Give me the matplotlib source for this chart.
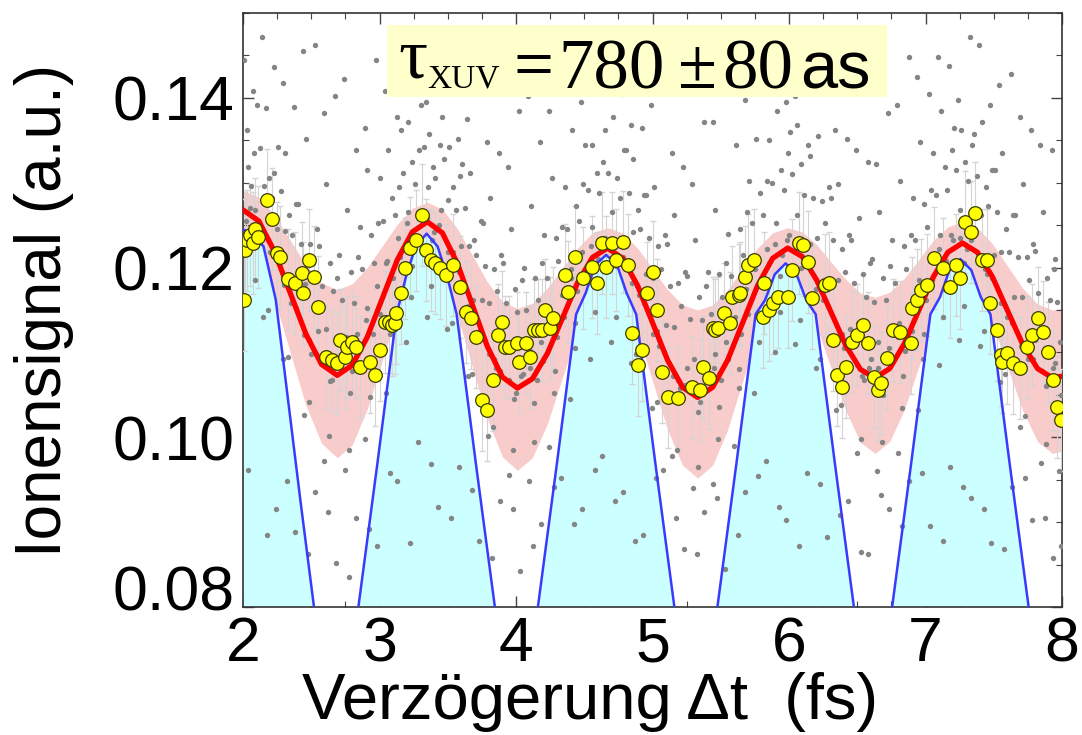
import numpy as np
import matplotlib
matplotlib.use("Agg")
import matplotlib.pyplot as plt
from matplotlib.ticker import FixedLocator, MultipleLocator
from matplotlib.patches import Rectangle

# =========================
# DATOS
# =========================
# ajuste (linea roja)
fit_x = [2.00, 2.115, 2.23, 2.345, 2.46, 2.575, 2.69,
         2.80, 2.91, 3.02, 3.13, 3.24, 3.35,
         3.46, 3.57, 3.68, 3.79, 3.90, 4.01,
         4.12, 4.23, 4.34, 4.45, 4.56, 4.67,
         4.78, 4.89, 5.00, 5.11, 5.22, 5.33,
         5.44, 5.55, 5.66, 5.77, 5.88, 5.99,
         6.097, 6.203, 6.31, 6.417, 6.523, 6.63,
         6.737, 6.843, 6.95, 7.057, 7.163, 7.27,
         7.38, 7.49, 7.60, 7.71, 7.82, 7.93,
         8.00]
fit_y = [0.1268, 0.1255, 0.1219, 0.11705, 0.1122, 0.1086, 0.1073,
         0.1085, 0.1118, 0.11635, 0.1209, 0.1242, 0.1254,
         0.1241, 0.1205, 0.1156, 0.1107, 0.1071, 0.1058,
         0.1069, 0.1099, 0.11405, 0.1182, 0.1212, 0.1223,
         0.1211, 0.1179, 0.1135, 0.1091, 0.1059, 0.1047,
         0.1059, 0.1091, 0.1135, 0.1179, 0.1211, 0.1223,
         0.1213, 0.1185, 0.11465, 0.1108, 0.1080, 0.1070,
         0.1081, 0.1110, 0.11495, 0.1189, 0.1218, 0.1229,
         0.1218, 0.1189, 0.11495, 0.1110, 0.1081, 0.1070,
         0.1072]
# banda de error (rosa)
band_hi = [0.1291, 0.1283, 0.1262, 0.12325, 0.1203, 0.1182, 0.1174,
           0.1181, 0.1200, 0.12255, 0.1251, 0.1270, 0.1277,
           0.1269, 0.1246, 0.12145, 0.1183, 0.1160, 0.1152,
           0.1158, 0.1176, 0.11995, 0.1223, 0.1241, 0.1247,
           0.1241, 0.1223, 0.11985, 0.1174, 0.1156, 0.1150,
           0.1156, 0.1174, 0.11985, 0.1223, 0.1241, 0.1247,
           0.1242, 0.1227, 0.1206, 0.1186, 0.1170, 0.1165,
           0.1171, 0.1187, 0.12095, 0.1232, 0.1248, 0.1254,
           0.1247, 0.1228, 0.1202, 0.1176, 0.1157, 0.1150,
           0.1152]
band_lo = [0.1225, 0.1208, 0.1163, 0.11005, 0.1038, 0.0993, 0.0976,
           0.0991, 0.1033, 0.10905, 0.1148, 0.1190, 0.1205,
           0.1189, 0.1144, 0.1083, 0.1022, 0.0977, 0.0961,
           0.0976, 0.1016, 0.10705, 0.1125, 0.1165, 0.1180,
           0.1165, 0.1123, 0.1066, 0.1009, 0.0967, 0.0952,
           0.0967, 0.1009, 0.1066, 0.1123, 0.1165, 0.1180,
           0.1167, 0.1130, 0.10805, 0.1031, 0.0994, 0.0981,
           0.0995, 0.1032, 0.1083, 0.1134, 0.1171, 0.1185,
           0.1171, 0.1134, 0.1083, 0.1032, 0.0995, 0.0981,
           0.0984]
# tren de pulsos XUV (azul / cian)
pulse_x = [1.85, 1.92, 2.00, 2.08, 2.15, 2.24, 2.42, 2.52, 2.68,
           2.845, 2.985, 3.125, 3.195, 3.265, 3.345, 3.425, 3.495, 3.565, 3.705, 3.845, 4.00,
           4.16, 4.30, 4.44, 4.51, 4.58, 4.66, 4.74, 4.81, 4.88, 5.02, 5.16, 5.32,
           5.475, 5.615, 5.755, 5.825, 5.895, 5.975, 6.055, 6.125, 6.195, 6.335, 6.475, 6.615,
           6.755, 6.895, 7.035, 7.105, 7.175, 7.255, 7.335, 7.405, 7.475, 7.615, 7.755, 7.90, 8.05]
pulse_y = [0.1195, 0.1232, 0.1245, 0.1238, 0.1225, 0.1162, 0.0926, 0.0800, 0.0600,
           0.0800, 0.0970, 0.1145, 0.1190, 0.1225, 0.1240, 0.1225, 0.1190, 0.1145, 0.0970, 0.0800, 0.0600,
           0.0800, 0.0970, 0.1145, 0.1170, 0.1203, 0.1215, 0.1203, 0.1170, 0.1145, 0.0970, 0.0800, 0.0600,
           0.0800, 0.0970, 0.1145, 0.1162, 0.1192, 0.1205, 0.1192, 0.1162, 0.1145, 0.0970, 0.0800, 0.0600,
           0.0800, 0.0970, 0.1145, 0.1165, 0.1197, 0.1210, 0.1197, 0.1165, 0.1145, 0.0970, 0.0800, 0.0600, 0.0600]
# promedios (circulos amarillos)
mean_x = [2.005, 2.015, 2.03, 2.05, 2.07, 2.09, 2.11, 2.174, 2.215, 2.25,
          2.27, 2.33, 2.38, 2.43, 2.44, 2.48, 2.52, 2.55, 2.61, 2.65,
          2.69, 2.71, 2.75, 2.76, 2.80, 2.83, 2.86, 2.93, 2.97, 3.00,
          3.04, 3.07, 3.09, 3.11, 3.12, 3.16, 3.19, 3.22, 3.27, 3.31,
          3.34, 3.38, 3.41, 3.44, 3.49, 3.54, 3.59, 3.63, 3.67, 3.71,
          3.75, 3.79, 3.83, 3.87, 3.90, 3.92, 3.95, 4.01, 4.02, 4.07,
          4.10, 4.13, 4.16, 4.19, 4.21, 4.25, 4.27, 4.36, 4.38, 4.43,
          4.49, 4.56, 4.59, 4.63, 4.66, 4.70, 4.73, 4.78, 4.82, 4.85,
          4.89, 4.92, 4.96, 5.00, 5.03, 5.07, 5.11, 5.19, 5.29, 5.35,
          5.37, 5.41, 5.44, 5.46, 5.48, 5.52, 5.57, 5.58, 5.63, 5.64,
          5.68, 5.70, 5.74, 5.81, 5.82, 5.85, 5.88, 5.92, 5.99, 6.02,
          6.07, 6.10, 6.14, 6.17, 6.26, 6.29, 6.32, 6.35, 6.39, 6.42,
          6.46, 6.50, 6.54, 6.58, 6.62, 6.65, 6.67, 6.72, 6.76, 6.81,
          6.89, 6.90, 6.94, 6.97, 7.01, 7.06, 7.13, 7.18, 7.22, 7.25,
          7.29, 7.33, 7.36, 7.41, 7.45, 7.47, 7.52, 7.55, 7.56, 7.60,
          7.64, 7.69, 7.74, 7.78, 7.82, 7.86, 7.90, 7.93, 7.96, 7.99]
mean_y = [0.1162, 0.1221, 0.1232, 0.1238, 0.1229, 0.1245, 0.1236, 0.1280, 0.1257, 0.1217,
          0.1212, 0.1186, 0.1182, 0.1194, 0.1170, 0.1209, 0.1189, 0.1154, 0.1095, 0.1091,
          0.1088, 0.1115, 0.1095, 0.1106, 0.1112, 0.1106, 0.1083, 0.1089, 0.1073, 0.1103,
          0.1136, 0.1136, 0.1132, 0.1135, 0.1146, 0.1170, 0.1199, 0.1223, 0.1232, 0.1262,
          0.1221, 0.1209, 0.1205, 0.1199, 0.1191, 0.1203, 0.1177, 0.1148, 0.1141, 0.1118,
          0.1044, 0.1032, 0.1067, 0.1121, 0.1136, 0.1106, 0.1106, 0.1111, 0.1089, 0.1111,
          0.1095, 0.1126, 0.1126, 0.1126, 0.1150, 0.1129, 0.1141, 0.1191, 0.1171, 0.1212,
          0.1188, 0.1201, 0.1182, 0.1229, 0.1201, 0.1229, 0.1209, 0.1230, 0.1203, 0.1123,
          0.1085, 0.1103, 0.1170, 0.1195, 0.1150, 0.1077, 0.1047, 0.1046, 0.1059, 0.1056,
          0.1083, 0.1070, 0.1129, 0.1126, 0.1129, 0.1146, 0.1135, 0.1165, 0.1168, 0.1170,
          0.1189, 0.1203, 0.1209, 0.1142, 0.1182, 0.1150, 0.1158, 0.1165, 0.1165, 0.1197,
          0.1229, 0.1227, 0.1207, 0.1164, 0.1179, 0.1182, 0.1115, 0.1073, 0.1059, 0.1083,
          0.1112, 0.1121, 0.1132, 0.1111, 0.1071, 0.1056, 0.1064, 0.1093, 0.1126, 0.1124,
          0.1111, 0.1152, 0.1162, 0.1174, 0.1179, 0.1211, 0.1199, 0.1177, 0.1203, 0.1188,
          0.1254, 0.1242, 0.1264, 0.1209, 0.1209, 0.1158, 0.1126, 0.1097, 0.1089, 0.1099,
          0.1088, 0.1082, 0.1106, 0.1121, 0.1141, 0.1124, 0.1100, 0.1067, 0.1036, 0.1020]
mean_err = 0.006
# datos crudos (puntos grises), primera serie
raw_x = [2.01, 2.03, 2.04, 2.06, 2.08, 2.02, 2.05, 2.07, 2.09, 2.04,
         2.14, 2.17, 2.19, 2.21, 2.23, 2.15, 2.20, 2.25, 2.18, 2.24,
         2.29, 2.31, 2.34, 2.36, 2.39, 2.30, 2.35, 2.40, 2.33, 2.38,
         2.44, 2.46, 2.49, 2.51, 2.54, 2.45, 2.50, 2.55, 2.48, 2.53,
         2.59, 2.61, 2.64, 2.66, 2.69, 2.60, 2.65, 2.70, 2.63, 2.68,
         2.74, 2.76, 2.79, 2.81, 2.84, 2.75, 2.80, 2.85, 2.78, 2.83,
         2.89, 2.91, 2.94, 2.96, 2.99, 2.90, 2.95, 3.00, 2.93, 2.98,
         3.04, 3.06, 3.09, 3.11, 3.14, 3.05, 3.10, 3.15, 3.08, 3.13,
         3.19, 3.21, 3.24, 3.26, 3.29, 3.20, 3.25, 3.30, 3.23, 3.28,
         3.34, 3.36, 3.39, 3.41, 3.44, 3.35, 3.40, 3.45, 3.38, 3.43,
         3.49, 3.51, 3.54, 3.56, 3.59, 3.50, 3.55, 3.60, 3.53, 3.58,
         3.64, 3.66, 3.69, 3.71, 3.74, 3.65, 3.70, 3.75, 3.68, 3.73,
         3.79, 3.81, 3.84, 3.86, 3.89, 3.80, 3.85, 3.90, 3.83, 3.88,
         3.94, 3.96, 3.99, 4.01, 4.04, 3.95, 4.00, 4.05, 3.98, 4.03,
         4.09, 4.11, 4.14, 4.16, 4.19, 4.10, 4.15, 4.20, 4.13, 4.18,
         4.24, 4.26, 4.29, 4.31, 4.34, 4.25, 4.30, 4.35, 4.28, 4.33,
         4.39, 4.41, 4.44, 4.46, 4.49, 4.40, 4.45, 4.50, 4.43, 4.48,
         4.54, 4.56, 4.59, 4.61, 4.64, 4.55, 4.60, 4.65, 4.58, 4.63,
         4.69, 4.71, 4.74, 4.76, 4.79, 4.70, 4.75, 4.80, 4.73, 4.78,
         4.84, 4.86, 4.89, 4.91, 4.94, 4.85, 4.90, 4.95, 4.88, 4.93,
         4.99, 5.01, 5.04, 5.06, 5.09, 5.00, 5.05, 5.10, 5.03, 5.08,
         5.14, 5.16, 5.19, 5.21, 5.24, 5.15, 5.20, 5.25, 5.18, 5.23,
         5.29, 5.31, 5.34, 5.36, 5.39, 5.30, 5.35, 5.40, 5.33, 5.38,
         5.44, 5.46, 5.49, 5.51, 5.54, 5.45, 5.50, 5.55, 5.48, 5.53,
         5.59, 5.61, 5.64, 5.66, 5.69, 5.60, 5.65, 5.70, 5.63, 5.68,
         5.74, 5.76, 5.79, 5.81, 5.84, 5.75, 5.80, 5.85, 5.78, 5.83,
         5.89, 5.91, 5.94, 5.96, 5.99, 5.90, 5.95, 6.00, 5.93, 5.98,
         6.04, 6.06, 6.09, 6.11, 6.14, 6.05, 6.10, 6.15, 6.08, 6.13,
         6.19, 6.21, 6.24, 6.26, 6.29, 6.20, 6.25, 6.30, 6.23, 6.28,
         6.34, 6.36, 6.39, 6.41, 6.44, 6.35, 6.40, 6.45, 6.38, 6.43,
         6.49, 6.51, 6.54, 6.56, 6.59, 6.50, 6.55, 6.60, 6.53, 6.58,
         6.64, 6.66, 6.69, 6.71, 6.74, 6.65, 6.70, 6.75, 6.68, 6.73,
         6.79, 6.81, 6.84, 6.86, 6.89, 6.80, 6.85, 6.90, 6.83, 6.88,
         6.94, 6.96, 6.99, 7.01, 7.04, 6.95, 7.00, 7.05, 6.98, 7.03,
         7.09, 7.11, 7.14, 7.16, 7.19, 7.10, 7.15, 7.20, 7.13, 7.18,
         7.24, 7.26, 7.29, 7.31, 7.34, 7.25, 7.30, 7.35, 7.28, 7.33,
         7.39, 7.41, 7.44, 7.46, 7.49, 7.40, 7.45, 7.50, 7.43, 7.48,
         7.54, 7.56, 7.59, 7.61, 7.64, 7.55, 7.60, 7.65, 7.58, 7.63,
         7.69, 7.71, 7.74, 7.76, 7.79, 7.70, 7.75, 7.80, 7.73, 7.78,
         7.84, 7.86, 7.89, 7.91, 7.94, 7.85, 7.90, 7.95, 7.88, 7.93]
raw_y = [0.1445, 0.1362, 0.1318, 0.1296, 0.1335, 0.1255, 0.1270, 0.1240, 0.1185, 0.0962,
         0.1472, 0.1388, 0.1305, 0.1282, 0.1312, 0.1236, 0.1218, 0.1245, 0.1150, 0.0915,
         0.1418, 0.1335, 0.1262, 0.1238, 0.1275, 0.1180, 0.1158, 0.1172, 0.1095, 0.0888,
         0.1455, 0.1352, 0.1228, 0.1205, 0.1246, 0.1120, 0.1098, 0.1125, 0.1042, 0.0935,
         0.1382, 0.1298, 0.1205, 0.1172, 0.1188, 0.1085, 0.1068, 0.1092, 0.1002, 0.0852,
         0.1422, 0.1268, 0.1195, 0.1158, 0.1212, 0.1092, 0.1078, 0.1105, 0.0985, 0.0905,
         0.1365, 0.1315, 0.1238, 0.1205, 0.1252, 0.1138, 0.1122, 0.1145, 0.1048, 0.0872,
         0.1408, 0.1338, 0.1282, 0.1262, 0.1295, 0.1205, 0.1188, 0.1212, 0.1122, 0.0948,
         0.1428, 0.1372, 0.1325, 0.1298, 0.1338, 0.1252, 0.1235, 0.1262, 0.1165, 0.0995,
         0.1395, 0.1358, 0.1318, 0.1305, 0.1345, 0.1258, 0.1242, 0.1268, 0.1178, 0.0918,
         0.1462, 0.1342, 0.1295, 0.1268, 0.1308, 0.1218, 0.1202, 0.1225, 0.1135, 0.0965,
         0.1375, 0.1312, 0.1232, 0.1215, 0.1255, 0.1155, 0.1138, 0.1162, 0.1075, 0.0878,
         0.1348, 0.1282, 0.1198, 0.1172, 0.1215, 0.1098, 0.1082, 0.1105, 0.1012, 0.0925,
         0.1318, 0.1245, 0.1175, 0.1148, 0.1185, 0.1068, 0.1052, 0.1075, 0.0985, 0.0842,
         0.1402, 0.1272, 0.1188, 0.1162, 0.1205, 0.1082, 0.1068, 0.1090, 0.0995, 0.0898,
         0.1385, 0.1305, 0.1235, 0.1208, 0.1248, 0.1132, 0.1118, 0.1142, 0.1052, 0.0952,
         0.1435, 0.1362, 0.1272, 0.1255, 0.1298, 0.1188, 0.1172, 0.1195, 0.1105, 0.0915,
         0.1412, 0.1345, 0.1312, 0.1288, 0.1325, 0.1225, 0.1210, 0.1235, 0.1148, 0.0978,
         0.1442, 0.1378, 0.1305, 0.1282, 0.1338, 0.1222, 0.1208, 0.1232, 0.1142, 0.0935,
         0.1368, 0.1328, 0.1268, 0.1245, 0.1285, 0.1182, 0.1168, 0.1192, 0.1098, 0.0885,
         0.1392, 0.1295, 0.1225, 0.1198, 0.1238, 0.1122, 0.1108, 0.1132, 0.1042, 0.0962,
         0.1335, 0.1262, 0.1182, 0.1155, 0.1195, 0.1072, 0.1058, 0.1082, 0.0985, 0.0868,
         0.1298, 0.1232, 0.1165, 0.1138, 0.1178, 0.1055, 0.1042, 0.1065, 0.0965, 0.0912,
         0.1372, 0.1268, 0.1192, 0.1165, 0.1205, 0.1082, 0.1068, 0.1092, 0.0998, 0.0845,
         0.1458, 0.1345, 0.1245, 0.1215, 0.1265, 0.1138, 0.1122, 0.1145, 0.1058, 0.0935,
         0.1418, 0.1352, 0.1288, 0.1262, 0.1302, 0.1198, 0.1182, 0.1205, 0.1112, 0.0972,
         0.1435, 0.1385, 0.1315, 0.1292, 0.1335, 0.1228, 0.1215, 0.1238, 0.1148, 0.0902,
         0.1402, 0.1368, 0.1322, 0.1285, 0.1345, 0.1218, 0.1205, 0.1228, 0.1138, 0.0958,
         0.1465, 0.1355, 0.1278, 0.1252, 0.1295, 0.1175, 0.1162, 0.1185, 0.1092, 0.0882,
         0.1362, 0.1298, 0.1222, 0.1195, 0.1238, 0.1118, 0.1105, 0.1128, 0.1038, 0.0925,
         0.1338, 0.1258, 0.1192, 0.1165, 0.1205, 0.1085, 0.1068, 0.1092, 0.0998, 0.0862,
         0.1322, 0.1265, 0.1188, 0.1162, 0.1202, 0.1082, 0.1068, 0.1092, 0.0995, 0.0915,
         0.1392, 0.1302, 0.1225, 0.1198, 0.1238, 0.1118, 0.1102, 0.1125, 0.1035, 0.0948,
         0.1425, 0.1348, 0.1275, 0.1248, 0.1292, 0.1175, 0.1162, 0.1185, 0.1092, 0.0895,
         0.1448, 0.1385, 0.1318, 0.1292, 0.1338, 0.1222, 0.1208, 0.1232, 0.1142, 0.0965,
         0.1398, 0.1362, 0.1325, 0.1302, 0.1345, 0.1235, 0.1222, 0.1245, 0.1155, 0.0928,
         0.1462, 0.1372, 0.1295, 0.1272, 0.1315, 0.1208, 0.1192, 0.1215, 0.1125, 0.0875,
         0.1415, 0.1335, 0.1245, 0.1218, 0.1262, 0.1158, 0.1142, 0.1165, 0.1075, 0.0942,
         0.1378, 0.1298, 0.1212, 0.1185, 0.1228, 0.1108, 0.1092, 0.1115, 0.1025, 0.0902,
         0.1345, 0.1265, 0.1188, 0.1162, 0.1198, 0.1078, 0.1065, 0.1088, 0.0992, 0.0858]
# datos crudos, segunda serie
raw_x2 = [2.075, 2.105, 2.125, 2.155, 2.185, 2.085, 2.145, 2.175,
          2.225, 2.255, 2.275, 2.305, 2.335, 2.235, 2.295, 2.325,
          2.375, 2.405, 2.425, 2.455, 2.485, 2.385, 2.445, 2.475,
          2.525, 2.555, 2.575, 2.605, 2.635, 2.535, 2.595, 2.625,
          2.675, 2.705, 2.725, 2.755, 2.785, 2.685, 2.745, 2.775,
          2.825, 2.855, 2.875, 2.905, 2.935, 2.835, 2.895, 2.925,
          2.975, 3.005, 3.025, 3.055, 3.085, 2.985, 3.045, 3.075,
          3.125, 3.155, 3.175, 3.205, 3.235, 3.135, 3.195, 3.225,
          3.275, 3.305, 3.325, 3.355, 3.385, 3.285, 3.345, 3.375,
          3.425, 3.455, 3.475, 3.505, 3.535, 3.435, 3.495, 3.525,
          3.575, 3.605, 3.625, 3.655, 3.685, 3.585, 3.645, 3.675,
          3.725, 3.755, 3.775, 3.805, 3.835, 3.735, 3.795, 3.825,
          3.875, 3.905, 3.925, 3.955, 3.985, 3.885, 3.945, 3.975,
          4.025, 4.055, 4.075, 4.105, 4.135, 4.035, 4.095, 4.125,
          4.175, 4.205, 4.225, 4.255, 4.285, 4.185, 4.245, 4.275,
          4.325, 4.355, 4.375, 4.405, 4.435, 4.335, 4.395, 4.425,
          4.475, 4.505, 4.525, 4.555, 4.585, 4.485, 4.545, 4.575,
          4.625, 4.655, 4.675, 4.705, 4.735, 4.635, 4.695, 4.725,
          4.775, 4.805, 4.825, 4.855, 4.885, 4.785, 4.845, 4.875,
          4.925, 4.955, 4.975, 5.005, 5.035, 4.935, 4.995, 5.025,
          5.075, 5.105, 5.125, 5.155, 5.185, 5.085, 5.145, 5.175,
          5.225, 5.255, 5.275, 5.305, 5.335, 5.235, 5.295, 5.325,
          5.375, 5.405, 5.425, 5.455, 5.485, 5.385, 5.445, 5.475,
          5.525, 5.555, 5.575, 5.605, 5.635, 5.535, 5.595, 5.625,
          5.675, 5.705, 5.725, 5.755, 5.785, 5.685, 5.745, 5.775,
          5.825, 5.855, 5.875, 5.905, 5.935, 5.835, 5.895, 5.925,
          5.975, 6.005, 6.025, 6.055, 6.085, 5.985, 6.045, 6.075,
          6.125, 6.155, 6.175, 6.205, 6.235, 6.135, 6.195, 6.225,
          6.275, 6.305, 6.325, 6.355, 6.385, 6.285, 6.345, 6.375,
          6.425, 6.455, 6.475, 6.505, 6.535, 6.435, 6.495, 6.525,
          6.575, 6.605, 6.625, 6.655, 6.685, 6.585, 6.645, 6.675,
          6.725, 6.755, 6.775, 6.805, 6.835, 6.735, 6.795, 6.825,
          6.875, 6.905, 6.925, 6.955, 6.985, 6.885, 6.945, 6.975,
          7.025, 7.055, 7.075, 7.105, 7.135, 7.035, 7.095, 7.125,
          7.175, 7.205, 7.225, 7.255, 7.285, 7.185, 7.245, 7.275,
          7.325, 7.355, 7.375, 7.405, 7.435, 7.335, 7.395, 7.425,
          7.475, 7.505, 7.525, 7.555, 7.585, 7.485, 7.545, 7.575,
          7.625, 7.655, 7.675, 7.705, 7.735, 7.635, 7.695, 7.725,
          7.775, 7.805, 7.825, 7.855, 7.885, 7.785, 7.845, 7.875,
          7.925, 7.945, 7.965, 7.985, 7.995, 7.935, 7.975, 7.990]
raw_y2 = [0.1408, 0.1392, 0.1341, 0.1296, 0.1232, 0.1268, 0.1142, 0.0885,
          0.1436, 0.1342, 0.1290, 0.1243, 0.1178, 0.1215, 0.1092, 0.0948,
          0.1389, 0.1275, 0.1228, 0.1181, 0.1115, 0.1152, 0.1026, 0.0862,
          0.1462, 0.1225, 0.1178, 0.1128, 0.1066, 0.1098, 0.0972, 0.0912,
          0.1402, 0.1215, 0.1162, 0.1118, 0.1052, 0.1085, 0.0962, 0.0835,
          0.1338, 0.1248, 0.1198, 0.1152, 0.1088, 0.1122, 0.0998, 0.0892,
          0.1445, 0.1305, 0.1255, 0.1208, 0.1145, 0.1178, 0.1052, 0.0958,
          0.1378, 0.1362, 0.1312, 0.1265, 0.1202, 0.1235, 0.1112, 0.0875,
          0.1468, 0.1392, 0.1342, 0.1295, 0.1232, 0.1265, 0.1142, 0.0968,
          0.1412, 0.1378, 0.1328, 0.1280, 0.1218, 0.1250, 0.1128, 0.0905,
          0.1352, 0.1322, 0.1270, 0.1225, 0.1162, 0.1195, 0.1072, 0.0938,
          0.1428, 0.1252, 0.1202, 0.1158, 0.1092, 0.1126, 0.1002, 0.0858,
          0.1335, 0.1205, 0.1158, 0.1108, 0.1045, 0.1078, 0.0956, 0.0915,
          0.1385, 0.1200, 0.1150, 0.1102, 0.1040, 0.1072, 0.0948, 0.0872,
          0.1348, 0.1238, 0.1188, 0.1142, 0.1078, 0.1112, 0.0988, 0.0942,
          0.1452, 0.1295, 0.1245, 0.1198, 0.1135, 0.1168, 0.1045, 0.0898,
          0.1395, 0.1345, 0.1292, 0.1248, 0.1185, 0.1218, 0.1092, 0.0962,
          0.1432, 0.1362, 0.1312, 0.1265, 0.1202, 0.1235, 0.1112, 0.0925,
          0.1405, 0.1338, 0.1288, 0.1242, 0.1178, 0.1212, 0.1088, 0.0878,
          0.1365, 0.1285, 0.1235, 0.1188, 0.1125, 0.1158, 0.1035, 0.0952,
          0.1418, 0.1228, 0.1178, 0.1130, 0.1068, 0.1100, 0.0978, 0.0905,
          0.1318, 0.1190, 0.1140, 0.1092, 0.1030, 0.1062, 0.0940, 0.0862,
          0.1372, 0.1195, 0.1145, 0.1098, 0.1036, 0.1068, 0.0945, 0.0928,
          0.1475, 0.1240, 0.1190, 0.1142, 0.1080, 0.1112, 0.0990, 0.0885,
          0.1398, 0.1302, 0.1252, 0.1205, 0.1142, 0.1175, 0.1052, 0.0955,
          0.1442, 0.1350, 0.1300, 0.1252, 0.1190, 0.1222, 0.1100, 0.0918,
          0.1395, 0.1360, 0.1310, 0.1262, 0.1200, 0.1232, 0.1110, 0.0872,
          0.1458, 0.1332, 0.1282, 0.1235, 0.1172, 0.1205, 0.1082, 0.0945,
          0.1412, 0.1282, 0.1232, 0.1185, 0.1122, 0.1155, 0.1032, 0.0908,
          0.1352, 0.1232, 0.1182, 0.1135, 0.1072, 0.1105, 0.0982, 0.0865,
          0.1325, 0.1210, 0.1160, 0.1112, 0.1050, 0.1082, 0.0960, 0.0932,
          0.1382, 0.1232, 0.1182, 0.1135, 0.1072, 0.1105, 0.0982, 0.0895,
          0.1448, 0.1282, 0.1232, 0.1185, 0.1122, 0.1155, 0.1032, 0.0958,
          0.1405, 0.1335, 0.1285, 0.1238, 0.1175, 0.1208, 0.1085, 0.0878,
          0.1438, 0.1365, 0.1315, 0.1268, 0.1205, 0.1238, 0.1115, 0.0942,
          0.1472, 0.1358, 0.1308, 0.1262, 0.1198, 0.1232, 0.1108, 0.0915,
          0.1392, 0.1315, 0.1265, 0.1218, 0.1155, 0.1188, 0.1065, 0.0868,
          0.1428, 0.1262, 0.1212, 0.1165, 0.1102, 0.1135, 0.1012, 0.0952,
          0.1362, 0.1220, 0.1170, 0.1122, 0.1060, 0.1092, 0.0970, 0.0905,
          0.1338, 0.1210, 0.1160, 0.1112, 0.1050, 0.1082, 0.0960, 0.0872]

x_ticks = [2, 3, 4, 5, 6, 7, 8]
y_ticks = [0.08, 0.10, 0.12, 0.14]
y_tick_labels = ["", "0.10", "0.12", "0.14"]
x_range = (2, 8)
y_range = (0.08, 0.15)

# =========================
# FIGURA
# =========================
plt.rcParams["font.family"] = ["Liberation Sans", "DejaVu Sans"]
serif = ["Liberation Serif", "DejaVu Serif"]

fig = plt.figure(figsize=(10.82, 7.35), dpi=100)
ax = fig.add_axes([0.2246, 0.1741, 0.757, 0.8082])
ax.set_xlim(*x_range)
ax.set_ylim(*y_range)

# banda rosa
ax.fill_between(fit_x, band_lo, band_hi, color="#f9cccc", lw=0, zorder=1)

# pulsos
px = np.array(pulse_x)
py = np.array(pulse_y)
ax.fill_between(px, py, y_range[0], where=py >= y_range[0], interpolate=True,
                color="#ccffff", lw=0, zorder=2)

# datos crudos
ax.errorbar(mean_x, mean_y, yerr=mean_err, fmt="none", ecolor="#d4d4d4",
            elinewidth=0.8, capsize=2, zorder=3)
ax.scatter(raw_x, raw_y, s=15, color="#858585", lw=0, zorder=3)
ax.scatter(raw_x2, raw_y2, s=15, color="#858585", lw=0, zorder=3)

ax.plot(px, py, color="#3a3aff", lw=1.8, zorder=4)

# ajuste
ax.plot(fit_x, fit_y, color="#ff0000", lw=3.8, zorder=5)

# promedios
ax.plot(mean_x, mean_y, "o", ms=9.8, mfc="#ffff00", mec="#3a3a00", mew=0.9, zorder=6)

# ejes
ax.xaxis.set_major_locator(FixedLocator(x_ticks))
ax.xaxis.set_minor_locator(MultipleLocator(0.25))
ax.yaxis.set_major_locator(FixedLocator(y_ticks))
ax.yaxis.set_minor_locator(MultipleLocator(0.005))
ax.set_yticklabels(y_tick_labels)
ax.tick_params(which="both", direction="in", top=True, right=True, color="#444444")
ax.tick_params(which="major", length=8, width=1.0, labelsize=45, pad=6)
ax.tick_params(which="minor", length=4.5, width=0.8)
for s in ax.spines.values():
    s.set_color("#333333")
    s.set_linewidth(1.2)

ax.annotate("0.08", xy=(0, y_range[0]), xycoords=ax.get_yaxis_transform(),
            xytext=(-6, 14), textcoords="offset points", ha="right",
            va="center_baseline", fontsize=45)

ax.set_xlabel("Verzögerung Δt  (fs)", fontsize=47)
ax.xaxis.set_label_coords(0.424, -0.11)
ax.set_ylabel("Ionensignal (a.u.)", fontsize=46)
ax.yaxis.set_label_coords(-0.206, 0.5)

# cuadro con la duracion
ax.add_patch(Rectangle((0.176, 0.859), 0.610, 0.121, transform=ax.transAxes,
                       facecolor="#ffffcc", edgecolor="none", zorder=7))
kw = dict(transform=ax.transAxes, va="baseline", ha="left", zorder=8)
ax.text(0.1893, 0.8906, "τ", fontsize=52, family=serif, **kw)
ax.text(0.2247, 0.8754, "XUV", fontsize=24, family=serif, **kw)
ax.text(0.3300, 0.8737, "=", fontsize=51, family=serif, **kw)
ax.text(0.3846, 0.8737, "780", fontsize=51, family=serif, **kw)
ax.text(0.5311, 0.8737, "±", fontsize=51, family=serif, **kw)
ax.text(0.5849, 0.8737, "80", fontsize=51, family=serif, **kw)
ax.text(0.6801, 0.8737, "as", fontsize=48, **kw)

fig.savefig("out.png", dpi=100)
